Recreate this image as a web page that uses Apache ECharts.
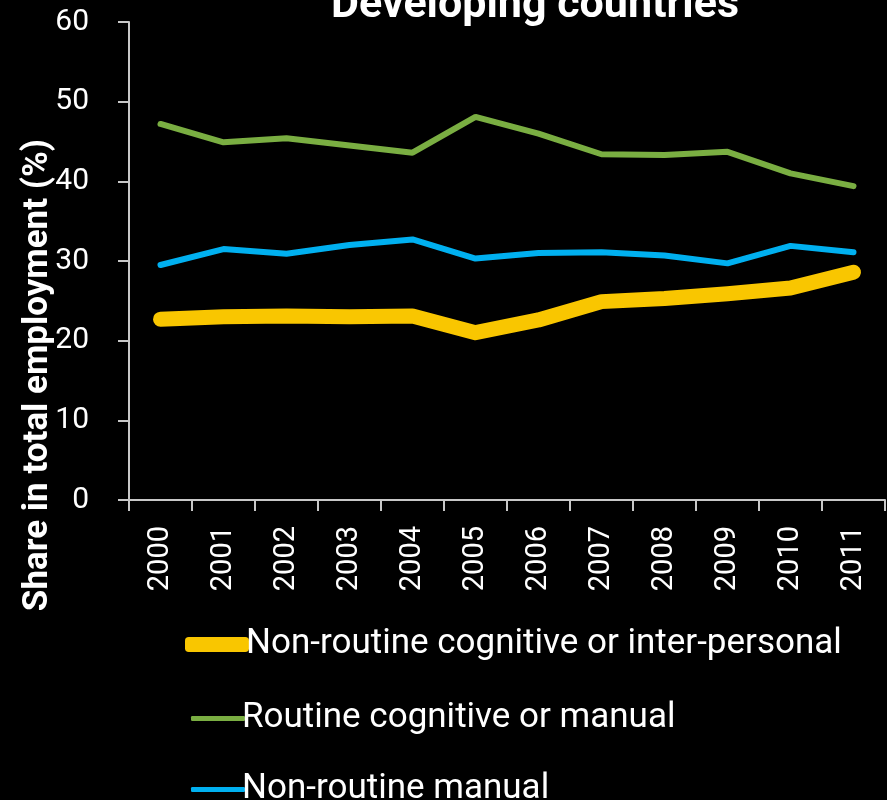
<!DOCTYPE html>
<html><head><meta charset="utf-8">
<script src="https://cdn.jsdelivr.net/npm/echarts@6/dist/echarts.min.js"></script>
<style>html,body{margin:0;padding:0;background:#000}#c{width:887px;height:800px}</style>
</head><body><div id="c"></div>
<script>
const years = ['2000','2001','2002','2003','2004','2005','2006','2007','2008','2009','2010','2011'];
const nonRoutineCognitive = [22.7, 23.0, 23.1, 23.0, 23.1, 21.0, 22.6, 24.9, 25.3, 25.9, 26.6, 28.6];
const routine = [47.2, 44.9, 45.4, 44.5, 43.6, 48.1, 46.0, 43.4, 43.3, 43.7, 41.0, 39.4];
const nonRoutineManual = [29.5, 31.5, 30.9, 32.0, 32.7, 30.3, 31.0, 31.1, 30.7, 29.7, 31.9, 31.1];
const seriesNames = ['Non-routine cognitive or inter-personal', 'Routine cognitive or manual', 'Non-routine manual'];
const titleText = 'Developing countries';
const yAxisTitle = 'Share in total employment (%)';

const FONT = 'Roboto, "Noto Sans", sans-serif';
const colors = ['#F9C600', '#7AAE42', '#00B0F0'];
const legendTops = [622, 696, 767];
const legendHeights = [15, 5, 5];
const legendLeft = [180, 186, 186];
const legendWidth = [64, 54, 54];

function mkLegend(i) {
  return {
    orient: 'vertical', left: legendLeft[i], top: legendTops[i],
    itemWidth: legendWidth[i], itemHeight: legendHeights[i], icon: 'roundRect',
    textStyle: {color:'#fff', fontSize: 35, fontFamily: FONT, padding: [0,0,0,-8]},
    data: [seriesNames[i]]
  };
}

const chart = echarts.init(document.getElementById('c'), null, {renderer:'canvas'});
chart.setOption({
  backgroundColor: '#000',
  animation: false,
  title: {
    text: titleText, left: 326, top: -20,
    textStyle: {color:'#fff', fontSize: 43, fontWeight:'bold', fontFamily: FONT}
  },
  grid: {left: 129, right: 2, top: 22, bottom: 300, containLabel: false},
  xAxis: {
    type: 'category', data: years, boundaryGap: true,
    axisLine: {lineStyle: {color:'#c8c8c8', width: 2}},
    axisTick: {show: true, length: 11, lineStyle: {color:'#c8c8c8', width: 2}},
    axisLabel: {color:'#fff', rotate: 90, fontSize: 29, fontFamily: FONT, margin: 26, interval: 0}
  },
  yAxis: {
    type: 'value', min: 0, max: 60, interval: 10,
    splitLine: {show:false},
    axisLine: {show:true, lineStyle: {color:'#c8c8c8', width: 2}},
    axisTick: {show:true, length: 11, lineStyle: {color:'#c8c8c8', width: 2}},
    axisLabel: {color:'#fff', fontSize: 30, fontFamily: FONT, margin: 40}
  },
  legend: [mkLegend(0), mkLegend(1), mkLegend(2)],
  graphic: [{
    type: 'text', x: 38, y: 375, rotation: Math.PI/2,
    style: {text: yAxisTitle, fill:'#fff', fontSize: 35, fontWeight:'bold', fontFamily: FONT,
            align:'center', verticalAlign:'middle'}
  }],
  series: [
    {name: seriesNames[0], type:'line', data: nonRoutineCognitive, symbol:'none',
     lineStyle:{color:colors[0], width: 15, cap:'round', join:'round'}, itemStyle:{color:colors[0]}},
    {name: seriesNames[1], type:'line', data: routine, symbol:'none',
     lineStyle:{color:colors[1], width: 6, cap:'round'}, itemStyle:{color:colors[1]}},
    {name: seriesNames[2], type:'line', data: nonRoutineManual, symbol:'none',
     lineStyle:{color:colors[2], width: 6, cap:'round'}, itemStyle:{color:colors[2]}}
  ]
});
</script></body></html>
